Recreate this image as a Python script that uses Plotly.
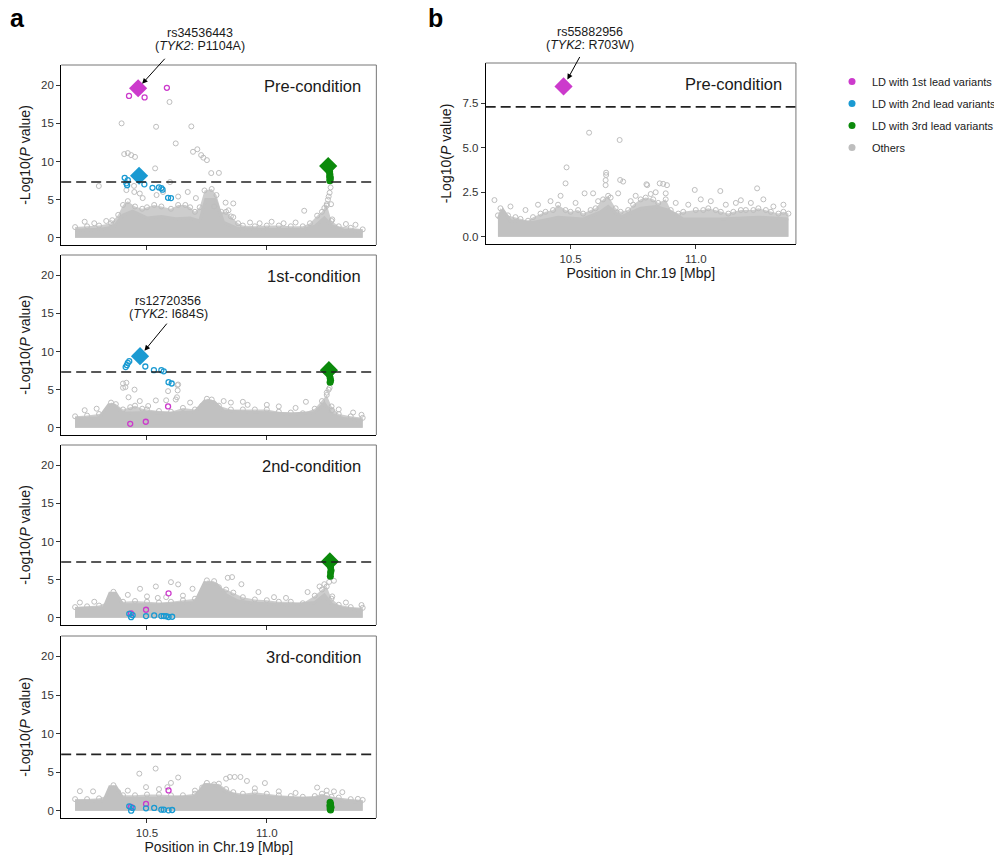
import plotly.graph_objects as go

# the page body adds an 8px margin, so the figure is drawn 8px smaller and boxes are shifted
PAGE_PAD = 8
W, H = 1002 - PAGE_PAD, 855 - PAGE_PAD
FONT = "Liberation Sans, Arial, sans-serif"
GREY = "#BEBEBE"
CORE_FILL = "#C1C1C1"
CLOUD_FILL = "#CDCDCD"
MAGENTA = "#CC3ACC"
BLUE = "#1A9AD2"
GREEN = "#0B8A0B"

gw_threshold = 7.30103
legend_names = ["LD with 1st lead variants", "LD with 2nd lead variants",
                "LD with 3rd lead variants", "Others"]

# ---------------- Pre-condition (a, top) ----------------
pre_core_x = [10.20, 10.30, 10.36, 10.40, 10.44, 10.50, 10.56, 10.62, 10.68, 10.72, 10.745, 10.785,
              10.82, 10.88, 11.00, 11.15, 11.20, 11.24, 11.27, 11.32, 11.40]
pre_core_y = [1.0, 1.1, 1.4, 3.0, 3.5, 2.6, 2.8, 2.5, 2.6, 2.2, 5.0, 5.0,
              2.0, 1.2, 1.1, 1.1, 1.5, 2.6, 1.6, 1.0, 0.9]
pre_env_x = [10.20, 10.25, 10.30, 10.35, 10.38, 10.40, 10.42, 10.45, 10.48, 10.50, 10.53, 10.56, 10.60,
             10.63, 10.66, 10.68, 10.70, 10.72, 10.74, 10.77, 10.79, 10.81, 10.83, 10.85, 10.88, 10.90,
             10.95, 11.00, 11.05, 11.10, 11.15, 11.18, 11.21, 11.23, 11.25, 11.27, 11.30, 11.35, 11.40]
pre_env_y = [1.4, 1.5, 1.6, 1.9, 3.0, 4.3, 4.8, 4.1, 3.8, 4.0, 4.3, 4.1, 3.8,
             4.3, 4.3, 4.0, 3.4, 4.0, 6.2, 6.4, 5.6, 3.4, 3.4, 2.8, 1.9, 1.6,
             1.5, 1.6, 1.6, 1.5, 1.5, 1.9, 2.9, 3.4, 4.4, 2.2, 1.5, 1.3, 1.1]
pre_oth_x = [10.299, 10.394, 10.538, 10.594, 10.685, 10.62, 10.692, 10.71, 10.726, 10.735, 10.75, 10.405,
             10.42, 10.434, 10.45, 10.534, 10.768, 10.80, 10.596, 11.156, 11.273, 11.266, 11.262, 11.258,
             11.255, 11.25, 11.24, 11.268, 10.447, 10.47, 10.482, 10.54, 10.567, 10.67, 10.63, 10.828,
             10.86, 10.84, 10.86, 10.78, 10.704, 10.414, 10.446, 10.24, 10.28, 10.33, 10.355, 10.93,
             10.97, 11.02, 11.07, 11.12, 11.33, 11.37]
pre_oth_y = [6.78, 15.0, 14.55, 17.8, 14.6, 12.37, 11.27, 11.6, 10.84, 10.5, 10.18, 10.97,
             11.1, 10.84, 10.6, 9.1, 8.48, 8.5, 7.3, 3.54, 2.4, 6.6, 5.9, 5.4,
             5.0, 4.2, 3.9, 4.4, 6.0, 5.8, 5.2, 5.6, 6.0, 6.0, 5.4, 4.6,
             4.5, 3.6, 2.7, 4.1, 5.2, 6.25, 6.8, 2.1, 1.9, 2.2, 2.3, 2.0,
             1.9, 2.1, 1.9, 2.0, 1.8, 1.7]
pre_ld1_x = [10.425, 10.490, 10.583]
pre_ld1_y = [18.6, 18.4, 19.66]
pre_ld2_x = [10.407, 10.420, 10.414, 10.417, 10.489, 10.523, 10.550, 10.560, 10.565, 10.588, 10.600]
pre_ld2_y = [7.86, 7.56, 7.13, 6.9, 7.0, 6.55, 6.6, 6.5, 6.3, 5.24, 5.2]
pre_ld3_x = [11.262, 11.263, 11.262, 11.264, 11.263, 11.265]
pre_ld3_y = [8.65, 8.34, 8.0, 7.64, 7.47, 7.9]
pre_lead_x = [10.463, 10.467, 11.256]
pre_lead_y = [19.6, 8.13, 9.4]
pre_lead_c = [MAGENTA, BLUE, GREEN]

# ---------------- 1st-condition ----------------
c1_core_x = [10.20, 10.30, 10.34, 10.36, 10.40, 10.50, 10.60, 10.70, 10.74, 10.78, 10.82, 10.95,
             11.10, 11.20, 11.24, 11.27, 11.32, 11.40]
c1_core_y = [1.2, 1.3, 3.0, 3.0, 1.9, 2.0, 1.9, 2.1, 3.5, 3.4, 2.2, 2.0,
             1.8, 2.0, 3.2, 1.8, 1.2, 1.0]
c1_env_x = [10.20, 10.25, 10.30, 10.33, 10.35, 10.37, 10.40, 10.43, 10.45, 10.48, 10.50, 10.55, 10.60,
            10.65, 10.70, 10.73, 10.75, 10.77, 10.80, 10.85, 10.90, 10.95, 11.00, 11.05, 11.10, 11.15,
            11.20, 11.23, 11.25, 11.27, 11.30, 11.35, 11.40]
c1_env_y = [1.5, 1.6, 1.8, 2.1, 3.3, 3.1, 2.4, 2.7, 2.9, 2.5, 2.4, 2.2, 2.1,
            2.6, 2.4, 2.9, 3.8, 3.7, 2.9, 2.4, 2.4, 2.4, 2.4, 2.1, 2.0, 1.9,
            2.5, 3.5, 4.3, 2.8, 1.8, 1.5, 1.3]
c1_oth_x = [10.414, 10.40, 10.448, 10.423, 10.63, 10.628, 10.62, 10.625, 10.588, 10.537, 10.505, 10.58,
            11.163, 11.25, 11.258, 11.262, 11.272, 10.40, 10.41, 10.627, 10.24, 10.29, 10.47, 10.68,
            10.85, 10.92, 11.0, 11.05, 11.12, 11.3, 11.36, 11.395, 10.90, 10.82]
c1_oth_y = [5.9, 5.24, 5.0, 4.0, 5.67, 4.9, 3.7, 4.0, 4.8, 3.58, 2.85, 3.6,
            3.4, 4.6, 5.0, 5.24, 2.3, 5.8, 5.33, 5.59, 2.3, 2.5, 3.5, 3.3,
            3.3, 3.0, 3.0, 2.8, 2.6, 2.4, 2.0, 1.7, 3.4, 3.5]
c1_ld1_x = [10.43, 10.495, 10.588]
c1_ld1_y = [0.52, 0.79, 2.79]
c1_ld2_x = [10.411, 10.416, 10.426, 10.42, 10.493, 10.529, 10.56, 10.57, 10.59, 10.603]
c1_ld2_y = [7.95, 8.2, 8.73, 8.5, 8.03, 7.55, 7.55, 7.4, 5.97, 5.8]
c1_ld3_x = [11.262, 11.264, 11.266, 11.264, 11.262]
c1_ld3_y = [6.98, 6.55, 6.24, 5.98, 7.2]
c1_lead_x = [10.471, 11.259]
c1_lead_y = [9.39, 7.55]
c1_lead_c = [BLUE, GREEN]

# ---------------- 2nd-condition ----------------
c2_core_x = [10.20, 10.32, 10.345, 10.37, 10.40, 10.55, 10.70, 10.74, 10.79, 10.83, 10.88, 10.95,
             11.10, 11.20, 11.24, 11.27, 11.32, 11.40]
c2_core_y = [1.2, 1.3, 3.2, 3.2, 1.7, 1.7, 2.0, 4.6, 4.4, 3.0, 2.2, 1.9,
             1.7, 2.0, 3.0, 1.8, 1.2, 1.0]
c2_env_x = [10.20, 10.25, 10.30, 10.34, 10.36, 10.38, 10.40, 10.45, 10.50, 10.55, 10.60, 10.65, 10.70,
            10.73, 10.75, 10.78, 10.80, 10.83, 10.86, 10.90, 10.95, 11.00, 11.05, 11.10, 11.15, 11.20,
            11.23, 11.25, 11.27, 11.30, 11.35, 11.40]
c2_env_y = [1.4, 1.5, 1.6, 2.1, 3.4, 2.4, 2.1, 2.2, 2.1, 2.0, 2.1, 2.3, 2.5,
            3.2, 4.9, 4.8, 4.0, 3.7, 3.3, 2.7, 2.4, 2.3, 2.1, 2.1, 1.9, 2.9,
            3.7, 4.1, 2.5, 1.7, 1.4, 1.3]
c2_oth_x = [10.471, 10.537, 10.60, 10.63, 10.545, 10.69, 10.837, 10.855, 10.894, 10.965, 11.17, 11.22,
            11.24, 11.26, 11.28, 11.273, 11.395, 10.22, 10.28, 10.42, 10.50, 10.58, 10.65, 11.03,
            11.08, 11.33]
c2_oth_y = [3.8, 4.1, 4.67, 4.37, 2.6, 3.8, 5.24, 5.33, 4.4, 3.37, 3.37, 4.1,
            4.4, 4.7, 4.85, 2.8, 1.67, 2.0, 2.1, 3.0, 2.8, 2.7, 2.9, 2.7,
            2.6, 2.0]
c2_ld1_x = [10.433, 10.496, 10.59]
c2_ld1_y = [0.56, 1.05, 3.2]
c2_ld2_x = [10.426, 10.434, 10.44, 10.496, 10.53, 10.56, 10.57, 10.58, 10.59, 10.605]
c2_ld2_y = [0.52, 0.08, 0.34, 0.22, 0.3, 0.22, 0.22, 0.2, 0.1, 0.13]
c2_ld3_x = [11.265, 11.266, 11.268, 11.266, 11.265]
c2_ld3_y = [6.95, 6.64, 6.2, 5.9, 5.45]
c2_lead_x = [11.263]
c2_lead_y = [7.38]
c2_lead_c = [GREEN]

# ---------------- 3rd-condition ----------------
c3_core_x = [10.20, 10.32, 10.345, 10.37, 10.40, 10.55, 10.70, 10.74, 10.79, 10.83, 10.88, 10.95,
             11.10, 11.20, 11.24, 11.27, 11.32, 11.40]
c3_core_y = [1.2, 1.3, 3.1, 3.1, 1.6, 1.6, 1.8, 3.4, 3.3, 2.4, 1.9, 1.9,
             1.6, 1.6, 1.8, 1.6, 1.3, 1.1]
c3_env_x = [10.20, 10.25, 10.30, 10.34, 10.36, 10.38, 10.40, 10.45, 10.50, 10.55, 10.60, 10.65, 10.70,
            10.73, 10.75, 10.78, 10.80, 10.83, 10.86, 10.90, 10.95, 11.00, 11.05, 11.10, 11.15, 11.20,
            11.23, 11.25, 11.27, 11.30, 11.35, 11.40]
c3_env_y = [1.5, 1.5, 1.6, 2.0, 3.3, 2.4, 2.0, 2.0, 2.1, 2.1, 2.0, 2.0, 2.2,
            3.0, 3.6, 3.4, 3.5, 2.8, 2.4, 2.2, 2.4, 2.2, 2.0, 1.9, 1.8, 1.9,
            2.2, 2.0, 1.8, 1.7, 1.5, 1.4]
c3_oth_x = [10.468, 10.536, 10.63, 10.60, 10.585, 10.496, 10.22, 10.275, 10.992, 10.917, 10.89, 10.866,
            10.846, 10.83, 11.21, 11.315, 11.38, 10.42, 10.55, 10.70, 10.95, 11.05, 11.12, 11.25, 11.28]
c3_oth_y = [4.8, 5.46, 4.3, 3.6, 3.05, 3.05, 2.53, 2.5, 3.58, 3.85, 4.37, 4.37,
            4.37, 4.15, 3.0, 2.4, 1.53, 2.6, 2.8, 2.6, 2.9, 2.5, 2.3, 2.6, 2.5]
c3_ld1_x = [10.433, 10.496, 10.59]
c3_ld1_y = [0.48, 0.87, 2.62]
c3_ld2_x = [10.426, 10.434, 10.44, 10.496, 10.53, 10.56, 10.57, 10.59, 10.605]
c3_ld2_y = [0.57, 0.0, 0.35, 0.31, 0.35, 0.13, 0.13, 0.04, 0.09]
c3_ld3_x = [11.264, 11.266, 11.263, 11.268, 11.264, 11.266]
c3_ld3_y = [1.09, 0.87, 0.65, 0.44, 0.22, 0.09]
c3_lead_x = []
c3_lead_y = []
c3_lead_c = []

# ---------------- b: Pre-condition ----------------
b_core_x = [10.21, 10.23, 10.26, 10.35, 10.45, 10.55, 10.62, 10.65, 10.70, 10.78, 10.84, 10.89,
            10.95, 11.10, 11.25, 11.37]
b_core_y = [1.0, 1.5, 0.9, 0.8, 1.1, 1.0, 1.4, 1.7, 1.1, 1.6, 1.7, 1.5,
            1.0, 1.0, 1.1, 1.0]
b_env_x = [10.21, 10.22, 10.25, 10.28, 10.30, 10.33, 10.35, 10.38, 10.40, 10.43, 10.45, 10.48, 10.50,
           10.53, 10.55, 10.58, 10.60, 10.63, 10.65, 10.68, 10.70, 10.73, 10.75, 10.78, 10.80, 10.83,
           10.85, 10.88, 10.90, 10.93, 10.95, 11.00, 11.03, 11.05, 11.08, 11.10, 11.13, 11.15, 11.18,
           11.20, 11.23, 11.25, 11.28, 11.30, 11.33, 11.35, 11.37]
b_env_y = [1.2, 1.6, 1.2, 1.1, 1.0, 0.9, 1.1, 1.3, 1.4, 1.5, 1.8, 1.5, 1.4,
           1.5, 1.3, 1.5, 1.6, 2.1, 2.3, 1.6, 1.4, 1.5, 1.8, 2.1, 2.2, 2.1,
           1.9, 2.1, 1.5, 1.3, 1.4, 1.5, 1.5, 1.6, 1.5, 1.4, 1.3, 1.4, 1.5,
           1.5, 1.5, 1.6, 1.5, 1.4, 1.3, 1.4, 1.3]
b_oth_x = [10.574, 10.696, 10.484, 10.48, 10.642, 10.642, 10.64, 10.64, 10.698, 10.71, 10.803, 10.806,
           10.856, 10.87, 10.885, 10.996, 11.098, 11.245, 10.196, 10.556, 10.59, 10.69, 10.88, 11.18,
           10.26, 10.32, 10.37, 10.42, 10.46, 10.52, 10.61, 10.66, 10.74, 10.76, 10.82, 10.84,
           10.92, 10.97, 11.02, 11.06, 11.12, 11.16, 11.22, 11.27, 11.31, 11.35]
b_oth_y = [5.85, 5.44, 3.9, 3.0, 3.6, 3.47, 3.18, 2.9, 3.19, 3.1, 2.95, 2.9,
           3.0, 2.97, 2.9, 2.63, 2.57, 2.72, 2.06, 2.44, 2.44, 2.44, 2.44, 2.05,
           1.7, 1.5, 1.8, 2.0, 2.3, 1.9, 2.0, 2.2, 2.0, 2.3, 2.4, 2.5,
           1.9, 1.8, 2.1, 2.0, 1.8, 1.9, 1.9, 2.1, 1.7, 1.8]
b_lead_x = [10.472]
b_lead_y = [8.45]
b_lead_c = [MAGENTA]

panel_titles = ["Pre-condition", "1st-condition", "2nd-condition", "3rd-condition", "Pre-condition"]

panels = [
    dict(core=(pre_core_x, pre_core_y), env=(pre_env_x, pre_env_y), oth=(pre_oth_x, pre_oth_y),
         ld1=(pre_ld1_x, pre_ld1_y), ld2=(pre_ld2_x, pre_ld2_y), ld3=(pre_ld3_x, pre_ld3_y),
         lead=(pre_lead_x, pre_lead_y, pre_lead_c)),
    dict(core=(c1_core_x, c1_core_y), env=(c1_env_x, c1_env_y), oth=(c1_oth_x, c1_oth_y),
         ld1=(c1_ld1_x, c1_ld1_y), ld2=(c1_ld2_x, c1_ld2_y), ld3=(c1_ld3_x, c1_ld3_y),
         lead=(c1_lead_x, c1_lead_y, c1_lead_c)),
    dict(core=(c2_core_x, c2_core_y), env=(c2_env_x, c2_env_y), oth=(c2_oth_x, c2_oth_y),
         ld1=(c2_ld1_x, c2_ld1_y), ld2=(c2_ld2_x, c2_ld2_y), ld3=(c2_ld3_x, c2_ld3_y),
         lead=(c2_lead_x, c2_lead_y, c2_lead_c)),
    dict(core=(c3_core_x, c3_core_y), env=(c3_env_x, c3_env_y), oth=(c3_oth_x, c3_oth_y),
         ld1=(c3_ld1_x, c3_ld1_y), ld2=(c3_ld2_x, c3_ld2_y), ld3=(c3_ld3_x, c3_ld3_y),
         lead=(c3_lead_x, c3_lead_y, c3_lead_c)),
    dict(core=(b_core_x, b_core_y), env=(b_env_x, b_env_y), oth=(b_oth_x, b_oth_y),
         ld1=([], []), ld2=([], []), ld3=([], []), lead=(b_lead_x, b_lead_y, b_lead_c)),
]

# pixel boxes of the plotting areas in the page (left, right, top, bottom)
boxes = [(62, 382, 65, 245), (62, 382, 255, 435), (62, 382, 445, 625), (62, 382, 636, 818),
         (493, 808, 63, 244)]


def fx(px):
    return (px - PAGE_PAD) / W


def fy(py):
    return 1 - (py - PAGE_PAD) / H


fig = go.Figure()
layout = dict(width=W, height=H, margin=dict(l=0, r=0, t=0, b=0),
              paper_bgcolor="white", plot_bgcolor="white",
              font=dict(family=FONT, color="#1a1a1a"), shapes=[], annotations=[])

for i, p in enumerate(panels):
    n = i + 1
    xa, ya = ("x", "y") if n == 1 else (f"x{n}", f"y{n}")
    l, r, t, b = boxes[i]
    is_b = n == 5

    fig.add_trace(go.Scatter(x=p["env"][0], y=p["env"][1], mode="lines+markers", fill="tozeroy",
                             fillcolor=CLOUD_FILL, line=dict(width=0, color=GREY),
                             marker=dict(symbol="circle-open", size=5, color=GREY, line=dict(width=1)),
                             xaxis=xa, yaxis=ya, showlegend=False, hoverinfo="skip"))
    fig.add_trace(go.Scatter(x=p["core"][0], y=p["core"][1], mode="lines", fill="tozeroy",
                             fillcolor=CORE_FILL, line=dict(width=3, color=CORE_FILL),
                             xaxis=xa, yaxis=ya, showlegend=False, hoverinfo="skip"))
    fig.add_trace(go.Scatter(x=p["oth"][0], y=p["oth"][1], mode="markers",
                             marker=dict(symbol="circle-open", size=5, color=GREY, line=dict(width=1)),
                             xaxis=xa, yaxis=ya, showlegend=False))
    for key, col in (("ld1", MAGENTA), ("ld2", BLUE)):
        fig.add_trace(go.Scatter(x=p[key][0], y=p[key][1], mode="markers",
                                 marker=dict(symbol="circle-open", size=5, color=col, line=dict(width=1.3)),
                                 xaxis=xa, yaxis=ya, showlegend=False))
    fig.add_trace(go.Scatter(x=p["ld3"][0], y=p["ld3"][1], mode="markers",
                             marker=dict(symbol="circle", size=7, color=GREEN),
                             xaxis=xa, yaxis=ya, showlegend=False))
    lx, ly, lc = p["lead"]
    fig.add_trace(go.Scatter(x=lx, y=ly, mode="markers",
                             marker=dict(symbol="diamond", size=14, color=lc),
                             xaxis=xa, yaxis=ya, showlegend=False))

    xdom = [fx(l), fx(r)]
    ydom = [fy(b), fy(t)]
    last = n in (4, 5)
    xkw = dict(domain=xdom, anchor=ya, range=[10.161, 11.40] if is_b else [10.142, 11.457],
               tickvals=[10.5, 11.0], ticktext=["10.5", "11.0"], showticklabels=last,
               ticks="outside", ticklen=4, tickcolor="#333", showline=True, linecolor="black",
               linewidth=1, showgrid=False, zeroline=False,
               tickfont=dict(size=11.5, color="#333"))
    if last:
        xkw["title"] = dict(text="Position in Chr.19 [Mbp]", font=dict(size=14, color="#1a1a1a"),
                            standoff=4)
    if is_b:
        ykw = dict(range=[-0.41, 9.77], tickvals=[0, 2.5, 5, 7.5], ticktext=["0.0", "2.5", "5.0", "7.5"])
    else:
        ykw = dict(range=[-0.95, 22.65], tickvals=[0, 5, 10, 15, 20])
    ykw.update(domain=ydom, anchor=xa, ticks="outside", ticklen=4, tickcolor="#333", showline=True,
               linecolor="black", linewidth=1, showgrid=False, zeroline=False,
               tickfont=dict(size=11.5, color="#333"),
               title=dict(text="-Log10(<i>P</i> value)", font=dict(size=14, color="#1a1a1a"), standoff=7))
    layout["xaxis" if n == 1 else f"xaxis{n}"] = xkw
    layout["yaxis" if n == 1 else f"yaxis{n}"] = ykw

    layout["shapes"] += [
        dict(type="line", xref=f"{xa} domain", yref=ya, x0=0, x1=1, y0=gw_threshold, y1=gw_threshold,
             line=dict(color="#222", width=1.6, dash="10px,5px"), layer="above"),
        dict(type="line", xref=f"{xa} domain", yref=f"{ya} domain", x0=0, x1=1, y0=1, y1=1,
             line=dict(color="#777", width=1)),
        dict(type="line", xref=f"{xa} domain", yref=f"{ya} domain", x0=1, x1=1, y0=0, y1=1,
             line=dict(color="#777", width=1)),
    ]
    layout["annotations"].append(
        dict(text=panel_titles[i], xref=f"{xa} domain", yref=f"{ya} domain",
             x=0.962 if is_b else 0.959, y=0.885, xanchor="right", yanchor="middle",
             showarrow=False, font=dict(size=16.5, color="#1a1a1a")))

# labelled lead variants: (axis, lead x, lead y, line1, line2, arrow ax, ay, standoff, text shift x, y)
labels = [
    ("", pre_lead_x[0], pre_lead_y[0], "rs34536443", "(<i>TYK2</i>: P1104A)", 28, -31, 6, 62, 49),
    ("2", c1_lead_x[0], c1_lead_y[0], "rs12720356", "(<i>TYK2</i>: I684S)", 28, -34, 7, 28, 49),
    ("5", b_lead_x[0], b_lead_y[0], "rs55882956", "(<i>TYK2</i>: R703W)", 17, -31, 8, 26, 48),
]
for ax_id, x, y, t1, t2, ax, ay, so, sx, sy in labels:
    layout["annotations"].append(dict(x=x, y=y, xref=f"x{ax_id}", yref=f"y{ax_id}", text="",
                                      showarrow=True, ax=ax, ay=ay, standoff=so, arrowhead=2,
                                      arrowsize=1.1, arrowwidth=1, arrowcolor="black"))
    for txt, dy in ((t1, 6.4), (t2, -6.4)):
        layout["annotations"].append(dict(x=x, y=y, xref=f"x{ax_id}", yref=f"y{ax_id}", text=txt,
                                          showarrow=False, xshift=sx, yshift=sy + dy,
                                          xanchor="center", yanchor="middle",
                                          font=dict(size=12.5, color="#1a1a1a")))

# panel letters (the "a" is kept just inside the page's left edge)
for letter, px, anchor in (("a", PAGE_PAD, "left"), ("b", 442, "center")):
    layout["annotations"].append(dict(text=f"<b>{letter}</b>", xref="paper", yref="paper",
                                      x=fx(px), y=fy(18.5), xanchor=anchor, yanchor="middle",
                                      showarrow=False, font=dict(size=25, color="black")))

# legend entries
for name, col in zip(legend_names, [MAGENTA, BLUE, GREEN, GREY]):
    fig.add_trace(go.Scatter(x=[None], y=[None], mode="markers", name=name, legendgroup=name,
                             marker=dict(symbol="circle", size=7, color=col), xaxis="x5", yaxis="y5"))

layout["legend"] = dict(x=fx(845), y=fy(67), xanchor="left", yanchor="top",
                        font=dict(size=11, color="#1a1a1a"), tracegroupgap=3,
                        bgcolor="rgba(0,0,0,0)", itemwidth=30)
layout["showlegend"] = True

fig.update_layout(**layout)
fig.write_html("out.html")
